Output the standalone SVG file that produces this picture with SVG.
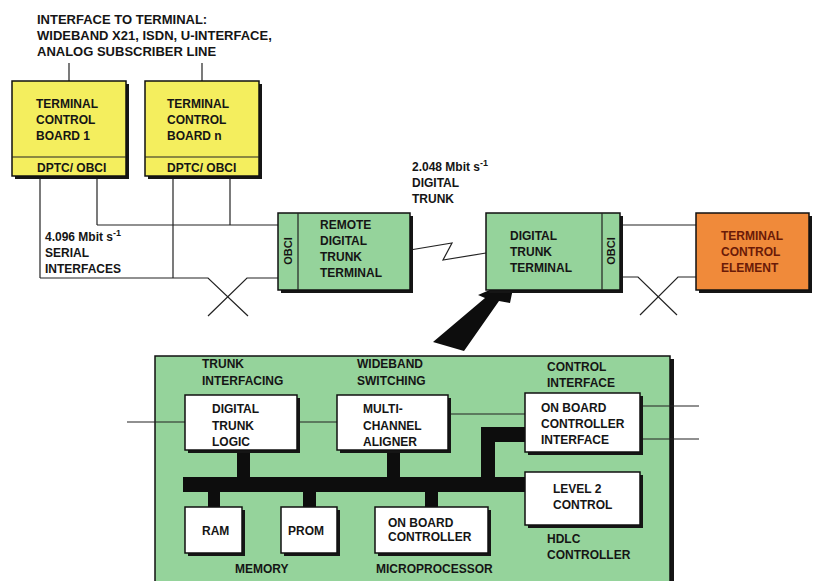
<svg xmlns="http://www.w3.org/2000/svg" width="818" height="581" viewBox="0 0 818 581">
<style>
.t{font-family:"Liberation Sans",Arial,sans-serif;font-weight:bold;font-size:12px;fill:#151515}
.tt{font-size:13px}
.o{font-size:11px}
.red{fill:#6a1a08}
.bx{stroke:#111;stroke-width:1.5}
.sh{fill:#151515}
.ln{stroke:#222;stroke-width:1.2;fill:none}
.bus{fill:#0d0d0d}
.yel{fill:#f4ee5e}
.grn{fill:#95d39b}
.org{fill:#f08a3a}
.wht{fill:#ffffff}
</style>
<rect width="818" height="581" fill="#ffffff"/>

<g id="title">
<text class="t tt" x="37" y="24">INTERFACE TO TERMINAL:</text>
<text class="t tt" x="37" y="40">WIDEBAND X21, ISDN, U-INTERFACE,</text>
<text class="t tt" x="37" y="56">ANALOG SUBSCRIBER LINE</text>
</g>

<g id="connectors">
<line class="ln" x1="69" y1="63" x2="69" y2="81"/>
<line class="ln" x1="202" y1="63" x2="202" y2="81"/>
<line class="ln" x1="40" y1="176" x2="40" y2="278"/>
<line class="ln" x1="173" y1="176" x2="173" y2="278"/>
<line class="ln" x1="97" y1="176" x2="97" y2="225"/>
<line class="ln" x1="230" y1="176" x2="230" y2="225"/>
<line class="ln" x1="97" y1="225" x2="278" y2="225"/>
<polyline class="ln" points="40,278 208,278 248,316"/>
<polyline class="ln" points="278,278 247,278 208,316"/>
<polyline class="ln" points="410,250 452,243 443,260 486,253"/>
<line class="ln" x1="620" y1="225" x2="696" y2="225"/>
<polyline class="ln" points="620,277 638,277 677,315"/>
<polyline class="ln" points="696,277 678,277 640,315"/>
<polygon fill="#0d0d0d" points="515,279 510,303 499,301 464,351 433,342 485,298 478,295"/>
</g>

<g id="board1">
<rect class="sh" x="15" y="84" width="114" height="95"/>
<rect class="bx yel" x="12" y="81" width="114" height="95"/>
<line class="ln" x1="12" y1="157" x2="126" y2="157"/>
<text class="t" x="36" y="108">TERMINAL</text>
<text class="t" x="36" y="124">CONTROL</text>
<text class="t" x="36" y="140">BOARD 1</text>
<text class="t" x="37" y="172">DPTC/ OBCI</text>
</g>

<g id="boardn">
<rect class="sh" x="148" y="84" width="114" height="95"/>
<rect class="bx yel" x="145" y="81" width="114" height="95"/>
<line class="ln" x1="145" y1="157" x2="259" y2="157"/>
<text class="t" x="167" y="108">TERMINAL</text>
<text class="t" x="167" y="124">CONTROL</text>
<text class="t" x="167" y="140">BOARD n</text>
<text class="t" x="167" y="172">DPTC/ OBCI</text>
</g>

<g id="label-serial">
<text class="t" x="45" y="241">4.096 Mbit s<tspan dy="-5" font-size="9">-1</tspan></text>
<text class="t" x="45" y="257">SERIAL</text>
<text class="t" x="45" y="273">INTERFACES</text>
</g>

<g id="label-trunk">
<text class="t" x="412" y="171">2.048 Mbit s<tspan dy="-5" font-size="9">-1</tspan></text>
<text class="t" x="412" y="187">DIGITAL</text>
<text class="t" x="412" y="203">TRUNK</text>
</g>

<g id="remote-dtt">
<rect class="sh" x="281" y="216" width="132" height="77"/>
<rect class="bx grn" x="278" y="213" width="132" height="77"/>
<line class="ln" x1="298" y1="213" x2="298" y2="290"/>
<text class="t o" transform="translate(292,251) rotate(-90)" text-anchor="middle">OBCI</text>
<text class="t" x="320" y="229">REMOTE</text>
<text class="t" x="320" y="245">DIGITAL</text>
<text class="t" x="320" y="261">TRUNK</text>
<text class="t" x="320" y="277">TERMINAL</text>
</g>

<g id="dtt">
<rect class="sh" x="489" y="216" width="134" height="77"/>
<rect class="bx grn" x="486" y="213" width="134" height="77"/>
<line class="ln" x1="602" y1="213" x2="602" y2="290"/>
<text class="t o" transform="translate(615,251) rotate(-90)" text-anchor="middle">OBCI</text>
<text class="t" x="510" y="240">DIGITAL</text>
<text class="t" x="510" y="256">TRUNK</text>
<text class="t" x="510" y="272">TERMINAL</text>
</g>

<g id="tce">
<rect class="sh" x="699" y="216" width="113" height="77"/>
<rect class="bx org" x="696" y="213" width="113" height="77"/>
<text class="t red" x="721" y="240">TERMINAL</text>
<text class="t red" x="721" y="256">CONTROL</text>
<text class="t red" x="721" y="272">ELEMENT</text>
</g>

<g id="board-detail">
<rect class="sh" x="159" y="359" width="515" height="240"/>
<rect class="bx grn" x="155" y="356" width="515" height="240"/>
<text class="t" x="202" y="368">TRUNK</text>
<text class="t" x="202" y="385">INTERFACING</text>
<text class="t" x="357" y="368">WIDEBAND</text>
<text class="t" x="357" y="385">SWITCHING</text>
<text class="t" x="547" y="371">CONTROL</text>
<text class="t" x="547" y="387">INTERFACE</text>
<text class="t" x="235" y="573">MEMORY</text>
<text class="t" x="376" y="573">MICROPROCESSOR</text>
<text class="t" x="547" y="543">HDLC</text>
<text class="t" x="547" y="559">CONTROLLER</text>
</g>

<g id="bus">
<rect class="bus" x="183" y="477" width="342" height="15"/>
<rect class="bus" x="237" y="450" width="13" height="28"/>
<rect class="bus" x="387" y="450" width="13" height="28"/>
<rect class="bus" x="481" y="427" width="14" height="51"/>
<rect class="bus" x="481" y="427" width="44" height="15"/>
<rect class="bus" x="208" y="491" width="12" height="16"/>
<rect class="bus" x="303" y="491" width="13" height="16"/>
<rect class="bus" x="425" y="491" width="13" height="16"/>
</g>

<g id="inner-links">
<line class="ln" x1="127" y1="422" x2="185" y2="422"/>
<line class="ln" x1="297" y1="422" x2="337" y2="422"/>
<line class="ln" x1="448" y1="414" x2="525" y2="414"/>
<line class="ln" x1="640" y1="406" x2="699" y2="406"/>
<line class="ln" x1="640" y1="439" x2="699" y2="439"/>
</g>

<g id="dtl">
<rect class="sh" x="188" y="398" width="112" height="55"/>
<rect class="bx wht" x="185" y="395" width="112" height="55"/>
<text class="t" x="212" y="413">DIGITAL</text>
<text class="t" x="212" y="430">TRUNK</text>
<text class="t" x="212" y="446">LOGIC</text>
</g>

<g id="mca">
<rect class="sh" x="340" y="398" width="111" height="55"/>
<rect class="bx wht" x="337" y="395" width="111" height="55"/>
<text class="t" x="363" y="413">MULTI-</text>
<text class="t" x="363" y="430">CHANNEL</text>
<text class="t" x="363" y="446">ALIGNER</text>
</g>

<g id="obci">
<rect class="sh" x="528" y="396" width="115" height="59"/>
<rect class="bx wht" x="525" y="393" width="115" height="59"/>
<text class="t" x="541" y="412">ON BOARD</text>
<text class="t" x="541" y="428">CONTROLLER</text>
<text class="t" x="541" y="444">INTERFACE</text>
</g>

<g id="l2c">
<rect class="sh" x="528" y="475" width="115" height="53"/>
<rect class="bx wht" x="525" y="472" width="115" height="53"/>
<text class="t" x="553" y="493">LEVEL 2</text>
<text class="t" x="553" y="509">CONTROL</text>
</g>

<g id="ram">
<rect class="sh" x="188" y="510" width="57" height="46"/>
<rect class="bx wht" x="185" y="507" width="57" height="46"/>
<text class="t" x="202" y="535">RAM</text>
</g>

<g id="prom">
<rect class="sh" x="284" y="510" width="56" height="46"/>
<rect class="bx wht" x="281" y="507" width="56" height="46"/>
<text class="t" x="288" y="535">PROM</text>
</g>

<g id="obc">
<rect class="sh" x="378" y="510" width="113" height="46"/>
<rect class="bx wht" x="375" y="507" width="113" height="46"/>
<text class="t" x="388" y="527">ON BOARD</text>
<text class="t" x="388" y="541">CONTROLLER</text>
</g>
</svg>
